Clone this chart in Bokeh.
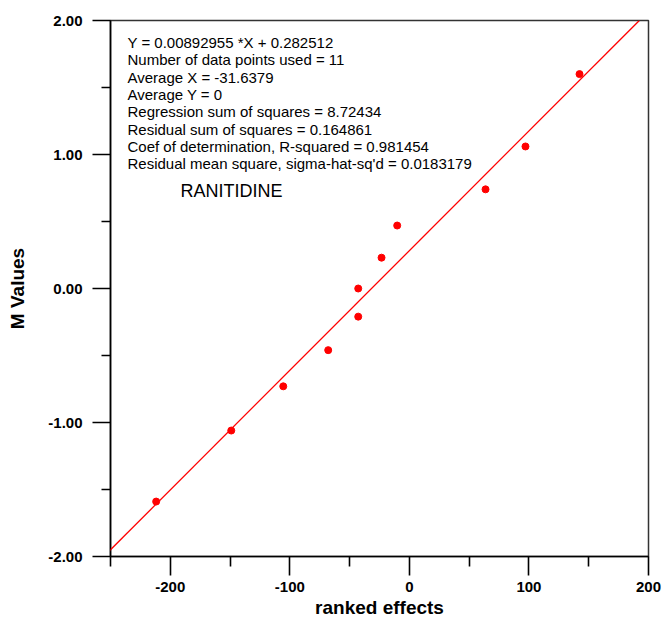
from bokeh.plotting import figure
from bokeh.models import Range1d, FixedTicker, NumeralTickFormatter, Slope, Label, ColumnDataSource
from bokeh.embed import file_html
from bokeh.resources import INLINE

# ---- data ----
ranked_effects = [-211.8, -149.0, -105.5, -67.9, -42.8, -42.8, -23.3, -10.2, 63.7, 97.1, 142.3]
m_values = [-1.59, -1.06, -0.73, -0.46, -0.21, 0.0, 0.23, 0.47, 0.74, 1.06, 1.60]

slope = 0.00892955
intercept = 0.282512

x_major = [-200, -100, 0, 100, 200]
x_minor = [-250, -150, -50, 50, 150]
y_major = [-2, -1, 0, 1, 2]
y_minor = [-1.5, -0.5, 0.5, 1.5]

stats_lines = [
    "Y = 0.00892955 *X + 0.282512",
    "Number of data points used = 11",
    "Average X = -31.6379",
    "Average Y = 0",
    "Regression sum of squares = 8.72434",
    "Residual sum of squares = 0.164861",
    "Coef of determination, R-squared = 0.981454",
    "Residual mean square, sigma-hat-sq'd = 0.0183179",
]
drug_name = "RANITIDINE"

FONT = "Liberation Sans"

p = figure(width=664, height=623, output_backend="svg", toolbar_location=None,
           x_range=Range1d(-250, 200), y_range=Range1d(-2, 2),
           min_border_left=110, min_border_right=16, min_border_top=20, min_border_bottom=67)
p.background_fill_color = "white"
p.border_fill_color = "white"
p.xgrid.visible = False
p.ygrid.visible = False
p.outline_line_color = "#333333"
p.outline_line_width = 1.5

# axes
p.xaxis.ticker = FixedTicker(ticks=x_major, minor_ticks=x_minor)
p.yaxis.ticker = FixedTicker(ticks=y_major, minor_ticks=y_minor)
p.yaxis.formatter = NumeralTickFormatter(format="0.00")
p.xaxis.formatter = NumeralTickFormatter(format="0")

for ax in (p.xaxis, p.yaxis):
    ax.axis_line_color = "black"
    ax.axis_line_width = 1.6
    ax.major_tick_line_color = "black"
    ax.major_tick_line_width = 1.6
    ax.minor_tick_line_color = "black"
    ax.minor_tick_line_width = 1.6
    ax.major_tick_in = 0
    ax.minor_tick_in = 0
    ax.major_label_text_font = FONT
    ax.major_label_text_font_style = "bold"
    ax.major_label_text_font_size = "15px"
    ax.major_label_text_color = "black"
    ax.axis_label_text_font = FONT
    ax.axis_label_text_font_style = "bold"
    ax.axis_label_text_color = "black"

p.yaxis.major_tick_out = 18
p.yaxis.minor_tick_out = 9
p.yaxis.major_label_standoff = 10
p.yaxis.axis_label = "M Values"
p.yaxis.axis_label_text_font_size = "19px"
p.yaxis.axis_label_standoff = 17

p.xaxis.major_tick_out = 19
p.xaxis.minor_tick_out = 10
p.xaxis.major_label_standoff = 6
p.xaxis.axis_label = "ranked effects"
p.xaxis.axis_label_text_font_size = "19px"
p.xaxis.axis_label_standoff = 2

# regression line
p.add_layout(Slope(gradient=slope, y_intercept=intercept, line_color="red", line_width=1.3))

# points
src = ColumnDataSource(dict(x=ranked_effects, y=m_values))
p.scatter("x", "y", source=src, size=7, color="red", line_color="red")

# statistics text block
for i, line in enumerate(stats_lines):
    p.add_layout(Label(x=-235.8, y=1.836 - i * 0.1294, text=line,
                       text_font=FONT, text_font_size="15px", text_color="black",
                       text_baseline="middle", text_align="left"))

p.add_layout(Label(x=-191.4, y=0.726, text=drug_name, text_font=FONT,
                   text_font_size="18px", text_color="black",
                   text_baseline="middle", text_align="left"))

open("out.html", "w").write(file_html(p, INLINE))
